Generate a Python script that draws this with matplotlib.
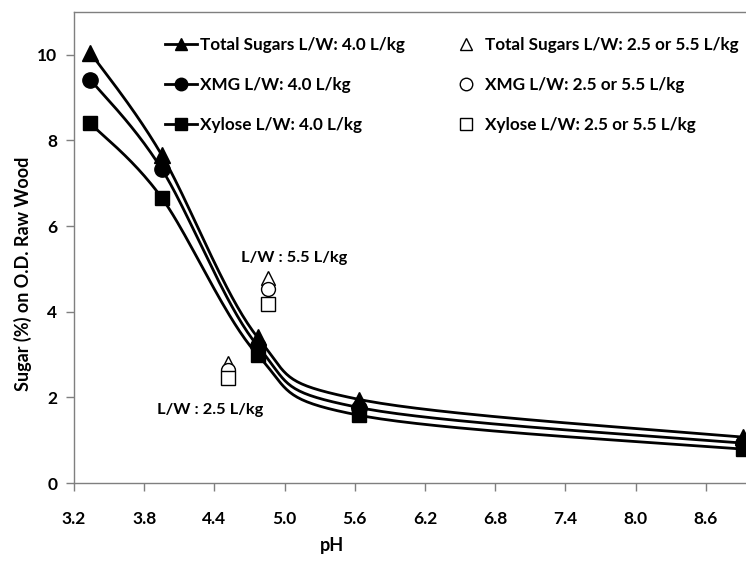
import numpy as np
import matplotlib
matplotlib.use("Agg")
import matplotlib.pyplot as plt
from matplotlib.lines import Line2D

# pH of the hydrolysis runs at L/W 4.0 L/kg
ph_main = [3.34, 3.95, 4.77, 5.64, 8.92]
total_main = [10.05, 7.66, 3.40, 1.95, 1.07]
xmg_main = [9.42, 7.33, 3.20, 1.76, 0.93]
xylose_main = [8.40, 6.66, 2.99, 1.58, 0.79]

# runs at L/W 2.5 and 5.5 L/kg
ph_alt = [4.52, 4.86]
total_alt = [2.80, 4.78]
xmg_alt = [2.64, 4.52]
xylose_alt = [2.45, 4.18]

x_ticks = [3.2, 3.8, 4.4, 5.0, 5.6, 6.2, 6.8, 7.4, 8.0, 8.6]
y_ticks = [0, 2, 4, 6, 8, 10]

FONT = "Lato"
plt.rcParams["font.family"] = [FONT, "DejaVu Sans"]
plt.rcParams["font.weight"] = "bold"


def smooth(xs, ys, n=40):
    """Cubic Bezier smoothing through every point (spreadsheet-style)."""
    p = np.column_stack([xs, ys]).astype(float)
    pts = [p[0]]
    m = len(p)
    for i in range(m - 1):
        p0 = p[i - 1] if i > 0 else p[i]
        p1, p2 = p[i], p[i + 1]
        p3 = p[i + 2] if i + 2 < m else p[i + 1]
        c1 = p1 + (p2 - p0) / 6.0
        c2 = p2 - (p3 - p1) / 6.0
        t = np.linspace(0, 1, n)[1:, None]
        seg = ((1 - t) ** 3) * p1 + 3 * ((1 - t) ** 2) * t * c1 \
            + 3 * (1 - t) * t ** 2 * c2 + t ** 3 * p2
        pts.extend(seg)
    pts = np.array(pts)
    return pts[:, 0], pts[:, 1]


fig = plt.figure(figsize=(7.46, 5.66), dpi=100)
ax = fig.add_axes([74 / 746, 1 - 483 / 566, (776 - 74) / 746, (483 - 12) / 566])

lw = 2.0
for ys, mk, ms in [(total_main, "^", 11), (xmg_main, "o", 11), (xylose_main, "s", 10.5)]:
    sx, sy = smooth(ph_main, ys)
    ax.plot(sx, sy, color="black", lw=lw, zorder=2, solid_capstyle="butt")
    ax.plot(ph_main, ys, ls="none", marker=mk, ms=ms, color="black", zorder=3)

for ys, mk, ms in [(total_alt, "^", 10), (xmg_alt, "o", 10), (xylose_alt, "s", 10)]:
    ax.plot(ph_alt, ys, ls="none", marker=mk, ms=ms, mfc="white", mec="black",
            mew=1.0, zorder=3)

ax.set_xlim(3.2, 9.2)
ax.set_ylim(0, 11.0)
ax.set_xticks(x_ticks)
ax.set_xticklabels([f"{v:.1f}" for v in x_ticks])
ax.set_yticks(y_ticks)

for side in ["left", "bottom", "top", "right"]:
    ax.spines[side].set_color("#7f7f7f")
    ax.spines[side].set_linewidth(1.0)
ax.tick_params(axis="both", direction="out", length=6, width=1.0, color="#7f7f7f",
               labelsize=12.5)
ax.tick_params(axis="x", pad=14)
ax.tick_params(axis="y", pad=6)
for lab in ax.get_xticklabels() + ax.get_yticklabels():
    lab.set_fontweight("bold")

ax.set_xlabel("pH", fontsize=13, fontweight="bold")
ax.xaxis.set_label_coords((332 - 74) / 702, -(545 - 483) / 471)
ax.xaxis.label.set_va("center")
ax.set_ylabel("Sugar (%) on O.D. Raw Wood", fontsize=13, fontweight="bold")
ax.yaxis.set_label_coords(-(74 - 23) / 702, (483 - 274) / 471)
ax.yaxis.label.set_va("center")

ax.text(5.08, 5.26, "L/W : 5.5 L/kg", ha="center", va="center", fontsize=11.8,
        fontweight="bold")
ax.text(4.36, 1.71, "L/W : 2.5 L/kg", ha="center", va="center", fontsize=11.8,
        fontweight="bold")

handles = [
    Line2D([], [], color="black", lw=lw, marker="^", ms=9),
    Line2D([], [], color="black", lw=lw, marker="o", ms=9),
    Line2D([], [], color="black", lw=lw, marker="s", ms=8.5),
    Line2D([], [], ls="none", marker="^", ms=9, mfc="white", mec="black", mew=1.0),
    Line2D([], [], ls="none", marker="o", ms=9, mfc="white", mec="black", mew=1.0),
    Line2D([], [], ls="none", marker="s", ms=9, mfc="white", mec="black", mew=1.0),
]
labels = [
    "Total Sugars L/W: 4.0 L/kg",
    "XMG L/W: 4.0 L/kg",
    "Xylose L/W: 4.0 L/kg",
    "Total Sugars L/W: 2.5 or 5.5 L/kg",
    "XMG L/W: 2.5 or 5.5 L/kg",
    "Xylose L/W: 2.5 or 5.5 L/kg",
]
leg = fig.legend(handles, labels, ncol=2, frameon=False, loc="upper left",
                 bbox_to_anchor=(165 / 746, 1 - 37 / 566), fontsize=12.3,
                 handlelength=1.9, handletextpad=0.15, labelspacing=1.4,
                 columnspacing=2.65, borderaxespad=0, borderpad=0)
for t in leg.get_texts():
    t.set_fontweight("bold")

fig.savefig("out.png", dpi=100)
